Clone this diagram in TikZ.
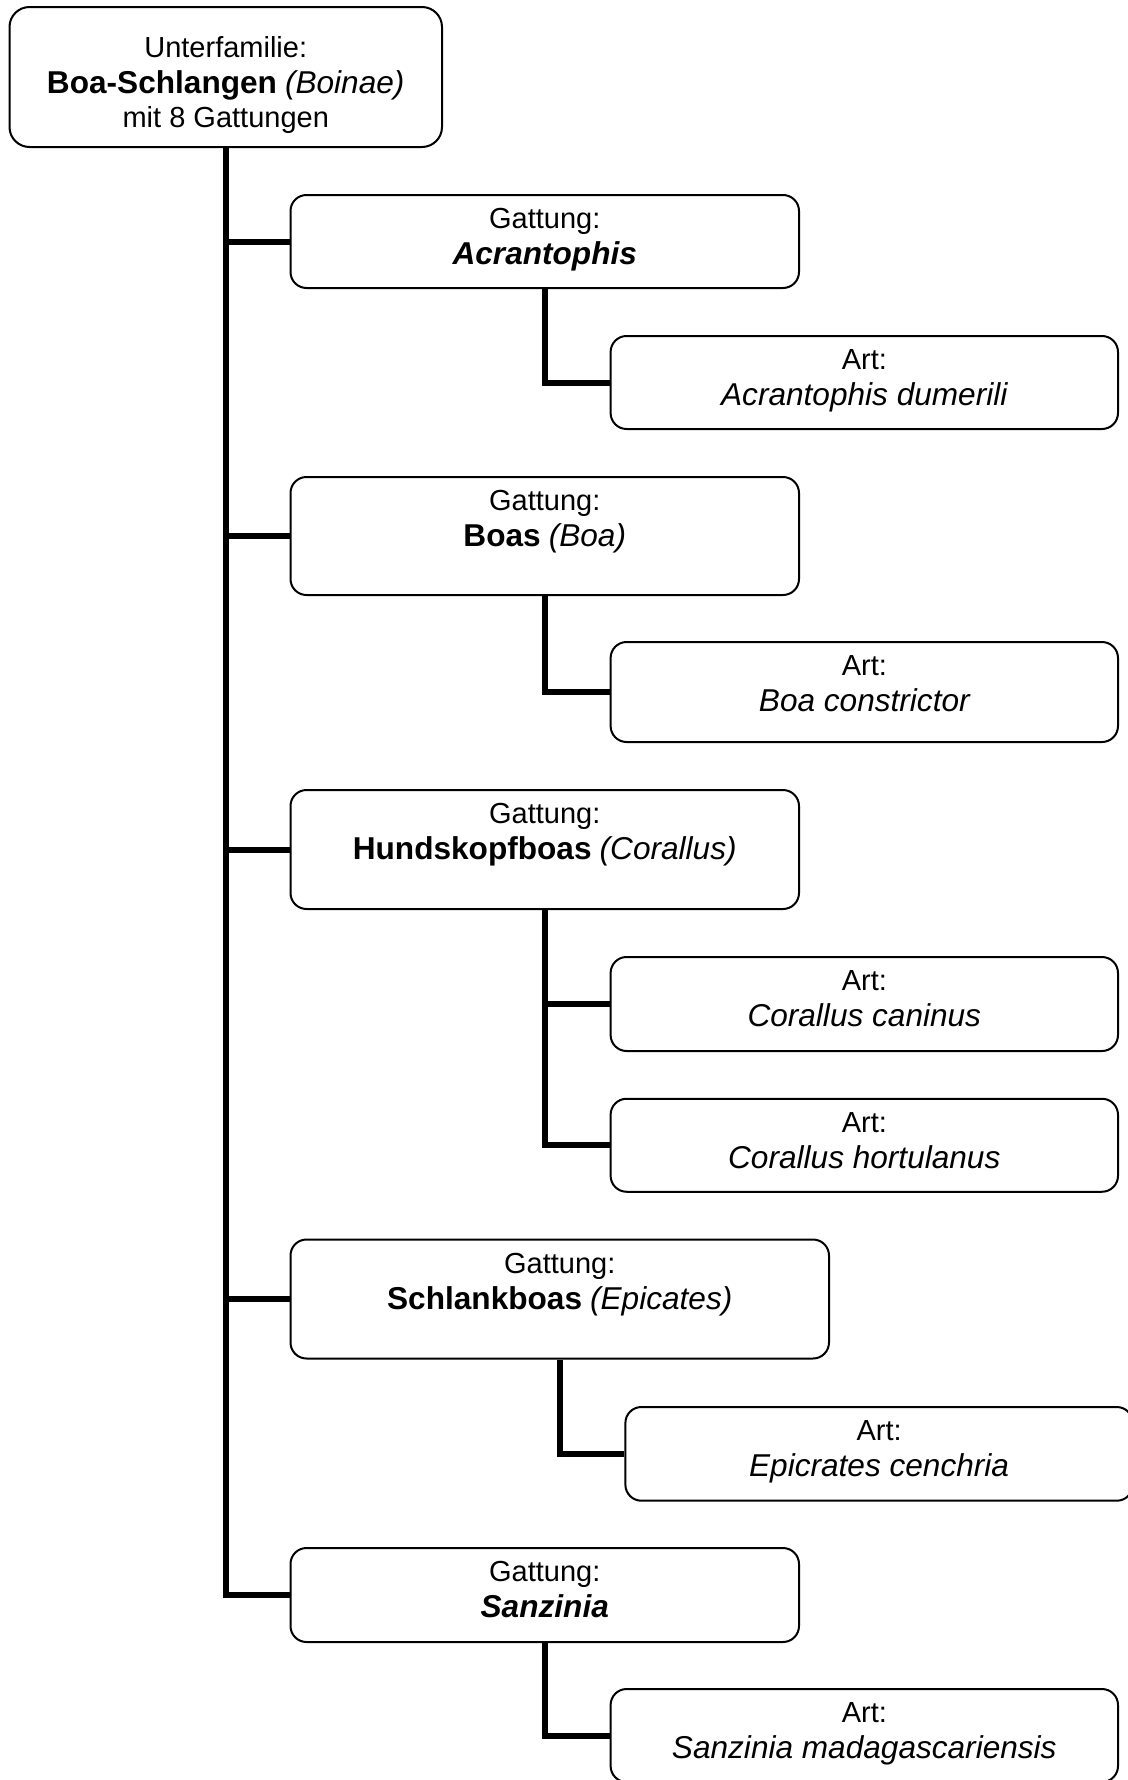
\documentclass[tikz,border=0pt]{standalone}
\usepackage{fontspec}
\setmainfont{Liberation Sans}
\newcommand{\mybf}[1]{{\fontsize{31.6}{35}\selectfont\bfseries #1}}
\newcommand{\myit}[1]{{\fontsize{31.6}{35}\selectfont\itshape #1}}
\newcommand{\mybi}[1]{{\fontsize{31.6}{35}\selectfont\bfseries\itshape #1}}
\begin{document}
\begin{tikzpicture}[x=1pt,y=-1pt,
  box/.style={draw=black, line width=2pt, rounded corners=16pt, rectangle, inner sep=0pt, fill=white},
  rootbox/.style={box, rounded corners=20pt},
  txt/.style={inner sep=0pt, anchor=base, font=\fontsize{29}{35}\selectfont},
  l1/.style={yshift=-34.5pt},
  l2/.style={yshift=-70.5pt},
  conn/.style={line width=6pt, line join=miter, line cap=butt}]
\useasboundingbox[fill=white] (0,0) rectangle (1127,1780);

% boxes
\node[rootbox, minimum width=432.5pt, minimum height=140pt] (root) at (225.75,77) {};
\node[box, minimum width=508.5pt, minimum height=93pt] (g1) at (544.75,241.5) {};
\node[box, minimum width=508.5pt, minimum height=118pt] (g2) at (544.75,536) {};
\node[box, minimum width=508.5pt, minimum height=119pt] (g3) at (544.75,849.5) {};
\node[box, minimum width=538.5pt, minimum height=119pt] (g4) at (559.75,1299) {};
\node[box, minimum width=508.5pt, minimum height=94pt] (g5) at (544.75,1595) {};

\node[box, minimum width=507.4pt, minimum height=93pt] (a1) at (864.3,382.5) {};
\node[box, minimum width=507.4pt, minimum height=100pt] (a2) at (864.3,692) {};
\node[box, minimum width=507.4pt, minimum height=94pt] (a3) at (864.3,1004) {};
\node[box, minimum width=507.4pt, minimum height=93pt] (a4) at (864.3,1145.25) {};
\node[box, minimum width=507.4pt, minimum height=93.7pt] (a5) at (879.1,1453.85) {};
\node[box, minimum width=507.4pt, minimum height=93pt] (a6) at (864.3,1735.5) {};

% connectors
\draw[conn] (root.south) |- (g5.west);
\draw[conn] (root.south |- g1.west) -- (g1.west);
\draw[conn] (root.south |- g2.west) -- (g2.west);
\draw[conn] (root.south |- g3.west) -- (g3.west);
\draw[conn] (root.south |- g4.west) -- (g4.west);
\draw[conn] (g1.south) |- (a1.west);
\draw[conn] (g2.south) |- (a2.west);
\draw[conn] (g3.south) |- (a3.west);
\draw[conn] (g3.south) |- (a4.west);
\draw[conn] (g4.south) |- (a5.west);
\draw[conn] (g5.south) |- (a6.west);

% texts
\node[txt] (root1) at ([yshift=-51.3pt]root.north) {Unterfamilie:};
\node[txt] (root2) at ([yshift=-87pt]root.north) {\mybf{Boa-Schlangen} \myit{(Boinae)}};
\node[txt] (root3) at ([yshift=-121.5pt]root.north) {mit 8 Gattungen};

\node[txt] (g1a) at ([l1]g1.north) {Gattung:};
\node[txt] (g1b) at ([l2]g1.north) {\mybi{Acrantophis}};
\node[txt] (g2a) at ([l1]g2.north) {Gattung:};
\node[txt] (g2b) at ([l2]g2.north) {\mybf{Boas} \myit{(Boa)}};
\node[txt] (g3a) at ([l1]g3.north) {Gattung:};
\node[txt] (g3b) at ([l2]g3.north) {\mybf{Hundskopfboas} \myit{(Corallus)}};
\node[txt] (g4a) at ([l1]g4.north) {Gattung:};
\node[txt] (g4b) at ([l2]g4.north) {\mybf{Schlankboas} \myit{(Epicates)}};
\node[txt] (g5a) at ([l1]g5.north) {Gattung:};
\node[txt] (g5b) at ([l2]g5.north) {\mybi{Sanzinia}};

\node[txt] (a1a) at ([l1]a1.north) {Art:};
\node[txt] (a1b) at ([l2]a1.north) {\myit{Acrantophis dumerili}};
\node[txt] (a2a) at ([l1]a2.north) {Art:};
\node[txt] (a2b) at ([l2]a2.north) {\myit{Boa constrictor}};
\node[txt] (a3a) at ([l1]a3.north) {Art:};
\node[txt] (a3b) at ([l2]a3.north) {\myit{Corallus caninus}};
\node[txt] (a4a) at ([l1]a4.north) {Art:};
\node[txt] (a4b) at ([l2]a4.north) {\myit{Corallus hortulanus}};
\node[txt] (a5a) at ([l1]a5.north) {Art:};
\node[txt] (a5b) at ([l2]a5.north) {\myit{Epicrates cenchria}};
\node[txt] (a6a) at ([l1]a6.north) {Art:};
\node[txt] (a6b) at ([l2]a6.north) {\myit{Sanzinia madagascariensis}};
\end{tikzpicture}
\end{document}
